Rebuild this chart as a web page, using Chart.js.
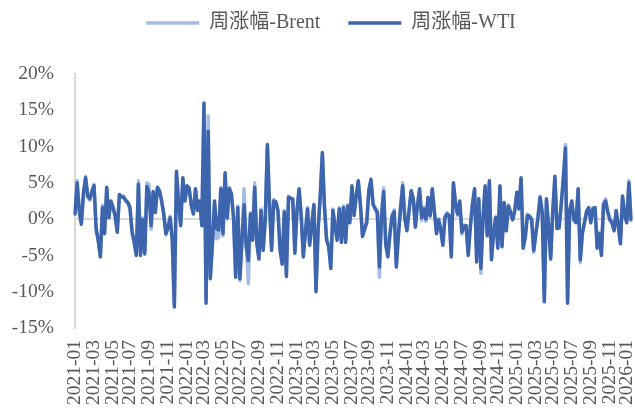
<!DOCTYPE html>
<html>
<head>
<meta charset="utf-8">
<script src="https://cdn.jsdelivr.net/npm/chart.js@4.4.1/dist/chart.umd.min.js"></script>
<style>
  html, body { margin: 0; padding: 0; background: #fff; }
  #wrap { width: 635px; height: 408px; }
</style>
</head>
<body>
<div id="wrap"><canvas id="myChart" width="635" height="408"></canvas></div>
<script>
// weekly % change, first week = 2021-01-01
const startDate = "2021-01-01";

const wti = [
  0.7, 5.0, 1.2, -0.7, 3.6, 5.7, 3.2, 2.8, 3.8, 4.6,
  -1.2, -3.0, -5.2, 1.6, -2.0, 4.4, 0.2, 2.5, 1.6, 0.4,
  -1.8, 3.4, 3.1, 3.0, 2.6, 2.3, 1.6, -1.8, -3.2, -5.0,
  4.8, -5.0, -0.1, -4.8, 4.5, 3.6, -0.9, 3.8, 0.9, 4.4,
  3.9, 2.5, 0.6, -2.0, -1.2, 0.2, -2.9, -12.1, 6.6, 2.2,
  -0.9, 5.7, 2.5, 4.6, 4.3, 1.9, 0.7, 4.2, 1.2, 2.5,
  -0.9, 16.0, -11.6, 12.1, -8.2, -3.5, 2.5, -1.3, -1.5, 4.2,
  -2.0, 6.4, 0.2, 4.2, 3.5, 0.2, -8.0, 1.6, -8.2, -2.9,
  2.0, -3.8, -5.7, 0.7, -2.9, 4.4, -3.4, -5.5, 1.2, -4.3,
  -0.1, 10.3, 2.0, -4.3, 2.5, 2.4, 1.2, -4.3, -6.2, 1.0,
  -7.9, 3.0, 2.9, 2.8, -4.7, 1.2, 4.2, 0.4, -5.2, -1.8,
  1.4, -3.6, -0.8, 2.0, -10.0, -1.5, 3.2, 9.2, 1.8, -2.9,
  -3.8, -6.8, 1.2, -1.0, -2.9, 1.4, -3.2, 1.6, -3.2, 1.8,
  -0.5, 4.6, 0.5, 3.2, 5.3, 2.0, -2.4, -1.4, -0.5, 4.0,
  5.5, 2.0, 1.5, 1.0, -6.6, 0.4, 3.8, -3.6, -5.2, -2.0,
  0.4, 1.0, -6.6, -2.2, 1.5, 4.6, 0.1, -1.6, 1.1, 3.9,
  2.9, -1.1, 1.9, 4.2, 0.2, 1.4, 0.0, 3.0, 0.5, 4.2,
  1.0, -2.0, -0.1, -1.5, -3.6, 0.2, 0.7, 0.5, -5.2, 5.0,
  2.1, 0.7, 2.5, -1.8, -1.0, -0.9, -5.0, -1.1, 2.0, 4.2,
  -5.9, 2.8, -6.8, 0.1, 4.6, -2.3, 5.3, -5.6, -2.0, 0.2,
  -4.0, 4.6, -3.8, 2.3, -1.6, 1.8, 1.0, -0.1, 1.1, 3.7,
  1.4, 5.7, -4.0, -2.5, 0.5, 0.4, -0.1, -4.3, -2.0, 0.2,
  3.0, 1.0, -11.4, 2.8, -1.0, -5.5, 1.0, 5.9, -1.3, -1.2,
  2.0, 5.7, 9.8, -11.6, 1.2, 2.5, -0.1, -0.5, 4.2, -5.6,
  -2.0, -0.5, 1.0, 1.6, -0.5, 1.4, 1.6, -4.0, -2.0, -5.0,
  2.0, 2.5, 1.0, -0.1, -0.5, -1.6, 1.2, -1.0, -3.4, 3.2,
  0.5, -0.5, 5.0, -0.1
];

const brent = [
  0.9, 5.3, 1.0, -0.5, 3.4, 5.9, 3.0, 2.6, 3.9, 4.8,
  -1.8, -2.7, -5.0, 1.9, -1.8, 4.2, 0.4, 2.3, 1.5, 0.6,
  -1.6, 3.2, 3.0, 3.2, 2.4, 2.2, 1.4, -1.6, -3.0, -4.7,
  5.3, -4.6, 0.2, -4.5, 5.0, 4.8, -1.4, 3.6, 1.2, 4.2,
  3.7, 2.3, 0.8, -2.2, -0.9, 0.4, -2.6, -11.8, 6.3, 2.0,
  -0.6, 5.5, 2.8, 4.4, 4.1, 2.1, 0.9, 4.0, 1.4, 2.3,
  -0.6, 15.6, -11.0, 14.2, -7.8, -3.2, 2.2, -2.7, -2.5, 4.4,
  -2.3, 6.1, 0.0, 4.4, 3.3, 0.0, -7.6, 1.8, -8.5, -2.6,
  4.2, -3.5, -8.9, 0.9, -2.6, 5.0, -3.1, -5.2, 1.4, -4.0,
  0.1, 9.9, 2.2, -3.8, 2.7, 2.2, 1.0, -4.0, -5.9, 1.2,
  -7.5, 3.2, 2.7, 2.6, -4.4, 1.0, 4.0, 0.6, -4.9, -1.6,
  1.6, -3.3, -0.6, 1.8, -9.7, -1.2, 3.0, 8.9, 1.6, -2.6,
  -3.5, -6.4, 1.4, -0.8, -2.6, 1.6, -2.9, 1.8, -2.9, 2.0,
  -0.3, 4.4, 0.8, 3.0, 5.1, 2.2, -2.1, -1.2, -0.3, 3.8,
  5.2, 2.2, 1.3, 0.6, -8.0, 0.8, 4.3, -3.3, -4.8, -1.8,
  0.6, 1.3, -6.2, -1.9, 1.7, 5.0, 0.3, -1.4, 1.3, 3.6,
  2.7, -0.9, 2.1, 3.8, -0.2, 1.6, -0.3, 2.8, 0.3, 4.0,
  1.2, -1.8, 0.1, -1.3, -3.3, 0.4, 0.9, 0.3, -4.9, 4.8,
  2.3, 0.5, 2.3, -2.1, -0.8, -1.1, -4.7, -0.8, 2.2, 4.0,
  -5.6, 2.6, -7.5, 0.3, 4.4, -2.0, 5.0, -5.3, -1.8, 0.4,
  -3.7, 4.4, -3.5, 2.1, -1.4, 2.0, 0.8, 0.1, 1.3, 3.5,
  1.6, 5.5, -3.7, -2.3, 0.7, 0.2, 0.1, -4.6, -1.8, 0.4,
  3.2, 0.8, -10.9, 2.5, -0.8, -5.2, 1.2, 5.6, -1.1, -1.0,
  2.2, 5.5, 10.3, -11.2, 1.4, 2.3, 0.1, -0.3, 4.0, -6.0,
  -1.8, -0.3, 1.2, 1.4, -0.3, 1.6, 1.4, -3.8, -1.8, -4.7,
  2.2, 2.8, 0.8, 0.1, -0.3, -1.4, 1.0, -0.8, -3.2, 3.0,
  0.7, -0.3, 5.3, 0.1
];

const yTicks = [-15, -10, -5, 0, 5, 10, 15, 20];

// weekly dates
const weeks = [];
const t0 = Date.parse(startDate + "T00:00:00Z");
for (let i = 0; i < wti.length; i++) {
  weeks.push(new Date(t0 + i * 7 * 86400000).toISOString().slice(0, 10));
}
// show YYYY-MM on first week of every odd month
const tickIdx = new Set();
weeks.forEach((d, i) => {
  const m = parseInt(d.slice(5, 7));
  if (m % 2 === 1 && (i === 0 || weeks[i - 1].slice(5, 7) !== d.slice(5, 7))) tickIdx.add(i);
});

const fontFamily = "'Liberation Serif', 'Noto Sans CJK SC', serif";

const legendTweak = {
  id: "legendTweak",
  beforeInit(chart) {
    const fit = chart.legend.fit;
    chart.legend.fit = function () {
      fit.call(this);
      this.height += 31;
    };
  },
  afterLayout(chart) {
    chart.legend.left += 10;
    chart.legend.right += 10;
  }
};

const ctx = document.getElementById("myChart").getContext("2d");
new Chart(ctx, {
  type: "line",
  data: {
    labels: weeks,
    datasets: [
      {
        label: "周涨幅-Brent",
        data: brent,
        borderColor: "#a7bce4",
        backgroundColor: "#a7bce4",
        borderWidth: 3.5,
        pointRadius: 0,
        borderJoinStyle: "round",
        borderCapStyle: "round",
        order: 1
      },
      {
        label: "周涨幅-WTI",
        data: wti,
        borderColor: "#3d65ae",
        backgroundColor: "#3d65ae",
        borderWidth: 3.5,
        pointRadius: 0,
        borderJoinStyle: "round",
        borderCapStyle: "round",
        order: 0
      }
    ]
  },
  options: {
    responsive: false,
    animation: false,
    layout: { padding: { left: 11, right: 4, top: -15, bottom: 0 } },
    plugins: {
      legend: {
        position: "top",
        labels: {
          usePointStyle: true,
          pointStyle: "line",
          pointStyleWidth: 53,
          padding: 28,
          color: "#595959",
          font: { family: fontFamily, size: 20 },
          sort: (a, b) => a.datasetIndex - b.datasetIndex
        }
      },
      tooltip: { enabled: false }
    },
    scales: {
      x: {
        grid: { display: false, drawTicks: false },
        border: { display: false },
        afterFit: (s) => { s.height = 80; s.paddingLeft = 0; s.paddingRight = 0; },
        ticks: {
          autoSkip: false,
          minRotation: 90,
          maxRotation: 90,
          padding: 12,
          color: "#595959",
          font: { family: fontFamily, size: 19.5 },
          callback: (v, i) => (tickIdx.has(i) ? weeks[i].slice(0, 7) : "")
        }
      },
      y: {
        min: yTicks[0],
        max: yTicks[yTicks.length - 1],
        afterBuildTicks: (s) => { s.ticks = yTicks.map(v => ({ value: v })); },
        afterFit: (s) => { s.width = 64; },
        grid: {
          drawTicks: false,
          lineWidth: 2,
          color: (c) => (c.tick && c.tick.value === 0 ? "#d9d9d9" : "rgba(0,0,0,0)")
        },
        border: { display: true, color: "#d9d9d9", width: 2 },
        ticks: {
          padding: 21,
          color: "#595959",
          font: { family: fontFamily, size: 19.5 },
          callback: (v) => v + "%"
        }
      }
    }
  },
  plugins: [legendTweak]
});
</script>
</body>
</html>
